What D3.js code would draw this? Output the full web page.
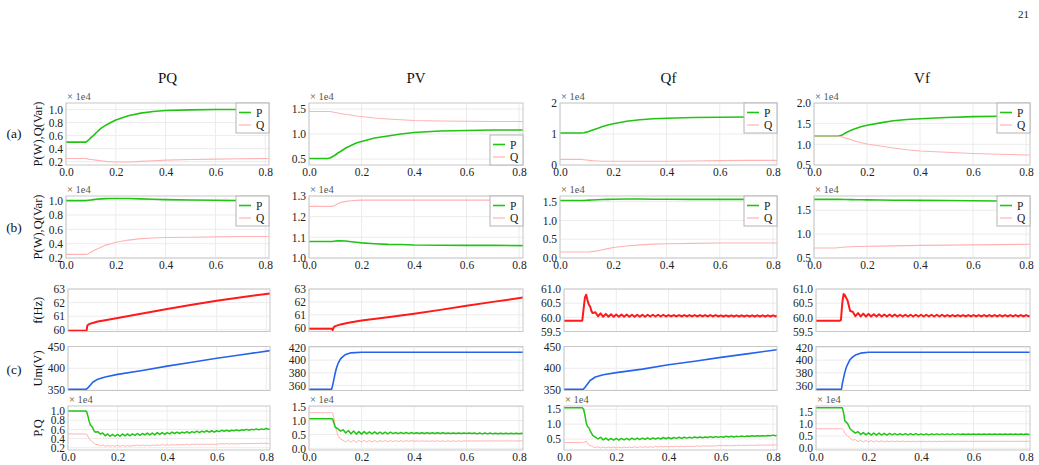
<!DOCTYPE html>
<html>
<head>
<meta charset="utf-8">
<script src="https://cdn.jsdelivr.net/npm/d3@7"></script>
<style>
  body { margin: 0; background: #fff; }
  svg { display: block; }
  svg text { font-family: "Liberation Serif", "Times New Roman", serif !important; }
</style>
</head>
<body>
<svg id="chart" width="1039" height="465"></svg>
<script>
// ---- labels ----
const columns = ["PQ", "PV", "Qf", "Vf"];
const rowLabels = ["(a)", "(b)", "(c)"];
const xTicks = [0, 0.2, 0.4, 0.6, 0.8];

// y ticks / domains per row, one entry per column
const aTicks = [["0.2","0.4","0.6","0.8","1.0"], ["0.5","1.0","1.5"], ["0","1","2"], ["0.5","1.0","1.5","2.0"]];
const aDom = [[0.15, 1.1], [0.38, 1.62], [0, 2], [0.5, 2.0]];
const bTicks = [["0.2","0.4","0.6","0.8","1.0"], ["1.0","1.1","1.2","1.3"], ["0.0","0.5","1.0","1.5"], ["0.5","1.0","1.5"]];
const bDom = [[0.2, 1.065], [1.0, 1.3], [0, 1.65], [0.5, 1.8]];
const fTicks = [["60","61","62","63"], ["60","61","62","63"], ["59.5","60.0","60.5","61.0"], ["59.5","60.0","60.5","61.0"]];
const fDom = [[59.87, 63], [59.7, 63], [59.5, 61], [59.5, 61]];
const uTicks = [["350","400","450"], ["360","380","400","420"], ["350","400","450"], ["360","380","400","420"]];
const uDom = [[349, 450], [352, 421.5], [349, 450], [352, 421.5]];
const cTicks = [["0.2","0.4","0.6","0.8","1.0"], ["0.0","0.5","1.0","1.5"], ["0.5","1.0","1.5"], ["0.0","0.5","1.0","1.5"]];
const cDom = [[0.15, 1.11], [-0.06, 1.52], [0.13, 1.61], [-0.07, 1.73]];

// ---- time grids (s) ----
const tS = [0, 0.07, 0.08, 0.09, 0.1, 0.11, 0.12, 0.14, 0.16, 0.18, 0.2, 0.25, 0.3, 0.35, 0.4, 0.5, 0.6, 0.7, 0.82];
const tR = [0, 0.06, 0.07, 0.075, 0.08, 0.085, 0.09, 0.095, 0.1, 0.105, 0.11,
  0.12, 0.13, 0.14, 0.15, 0.16, 0.17, 0.18, 0.19,
  0.2, 0.21, 0.22, 0.23, 0.24, 0.25, 0.26, 0.27, 0.28, 0.29,
  0.3, 0.31, 0.32, 0.33, 0.34, 0.35, 0.36, 0.37, 0.38, 0.39,
  0.4, 0.41, 0.42, 0.43, 0.44, 0.45, 0.46, 0.47, 0.48, 0.49,
  0.5, 0.51, 0.52, 0.53, 0.54, 0.55, 0.56, 0.57, 0.58, 0.59,
  0.6, 0.61, 0.62, 0.63, 0.64, 0.65, 0.66, 0.67, 0.68, 0.69,
  0.7, 0.71, 0.72, 0.73, 0.74, 0.75, 0.76, 0.77, 0.78, 0.79,
  0.8, 0.81, 0.82];

// ---- row (a): P, Q  (x 1e4) on tS ----
const aP1 = [0.5, 0.5, 0.5, 0.53, 0.57, 0.6, 0.64, 0.71, 0.76, 0.8, 0.84, 0.905, 0.945, 0.97, 0.985, 0.995, 1.0, 1.0, 1.0];
const aQ1 = [0.25, 0.25, 0.25, 0.24, 0.235, 0.23, 0.225, 0.215, 0.205, 0.2, 0.195, 0.195, 0.205, 0.215, 0.225, 0.235, 0.24, 0.245, 0.25];
const aP2 = [0.51, 0.51, 0.52, 0.55, 0.58, 0.62, 0.65, 0.72, 0.77, 0.82, 0.85, 0.92, 0.96, 1.0, 1.03, 1.06, 1.07, 1.08, 1.08];
const aQ2 = [1.45, 1.45, 1.45, 1.44, 1.43, 1.42, 1.41, 1.39, 1.38, 1.36, 1.35, 1.32, 1.3, 1.285, 1.27, 1.26, 1.255, 1.25, 1.25];
const aP3 = [1.03, 1.03, 1.03, 1.04, 1.06, 1.09, 1.12, 1.18, 1.24, 1.29, 1.33, 1.41, 1.46, 1.49, 1.51, 1.53, 1.54, 1.55, 1.55];
const aQ3 = [0.18, 0.18, 0.18, 0.17, 0.16, 0.15, 0.14, 0.13, 0.12, 0.12, 0.12, 0.12, 0.12, 0.12, 0.12, 0.13, 0.14, 0.15, 0.15];
const aP4 = [1.2, 1.2, 1.2, 1.2, 1.21, 1.24, 1.28, 1.34, 1.39, 1.43, 1.46, 1.52, 1.57, 1.6, 1.62, 1.65, 1.67, 1.68, 1.69];
const aQ4 = [1.2, 1.2, 1.2, 1.2, 1.19, 1.17, 1.15, 1.11, 1.07, 1.04, 1.01, 0.96, 0.91, 0.87, 0.84, 0.81, 0.78, 0.76, 0.74];

// ---- row (b): P, Q (x 1e4) on tS ----
const bP1 = [1.0, 1.0, 1.0, 1.005, 1.01, 1.015, 1.02, 1.025, 1.028, 1.03, 1.03, 1.03, 1.025, 1.02, 1.015, 1.01, 1.005, 1.0, 1.0];
const bQ1 = [0.25, 0.25, 0.25, 0.26, 0.28, 0.3, 0.32, 0.35, 0.38, 0.4, 0.42, 0.45, 0.47, 0.48, 0.485, 0.49, 0.495, 0.5, 0.5];
const bP2 = [1.08, 1.08, 1.08, 1.08, 1.082, 1.083, 1.083, 1.082, 1.079, 1.076, 1.073, 1.069, 1.066, 1.065, 1.063, 1.062, 1.061, 1.061, 1.06];
const bQ2 = [1.25, 1.25, 1.25, 1.25, 1.255, 1.262, 1.268, 1.274, 1.277, 1.279, 1.28, 1.28, 1.28, 1.28, 1.28, 1.28, 1.28, 1.28, 1.28];
const bP3 = [1.53, 1.53, 1.53, 1.53, 1.535, 1.54, 1.545, 1.55, 1.555, 1.56, 1.565, 1.57, 1.57, 1.565, 1.565, 1.56, 1.56, 1.56, 1.56];
const bQ3 = [0.16, 0.16, 0.16, 0.16, 0.16, 0.16, 0.17, 0.19, 0.22, 0.25, 0.28, 0.32, 0.35, 0.37, 0.38, 0.39, 0.4, 0.4, 0.4];
const bP4 = [1.73, 1.73, 1.73, 1.73, 1.73, 1.728, 1.726, 1.724, 1.722, 1.72, 1.718, 1.715, 1.712, 1.71, 1.708, 1.705, 1.7, 1.695, 1.69];
const bQ4 = [0.71, 0.71, 0.71, 0.715, 0.72, 0.725, 0.73, 0.735, 0.74, 0.742, 0.745, 0.75, 0.755, 0.76, 0.765, 0.77, 0.775, 0.78, 0.79];

// ---- row (c): frequency (Hz) ----
const tF1 = [0, 0.075, 0.078, 0.082, 0.09, 0.1, 0.12, 0.15, 0.2, 0.3, 0.4, 0.5, 0.6, 0.7, 0.82];
const f1 = [59.93, 59.93, 60.3, 60.38, 60.45, 60.5, 60.6, 60.7, 60.86, 61.2, 61.52, 61.84, 62.14, 62.4, 62.68];
const tF2 = [0, 0.088, 0.09, 0.095, 0.1, 0.12, 0.15, 0.2, 0.3, 0.4, 0.5, 0.6, 0.7, 0.82];
const f2 = [59.92, 59.92, 59.8, 60.05, 60.12, 60.25, 60.38, 60.55, 60.8, 61.07, 61.38, 61.7, 62.0, 62.35];
const f3 = [59.88, 59.88, 59.88, 60.3, 60.7, 60.8, 60.6, 60.45, 60.38, 60.22, 60.15,
  60.18, 60.04, 60.14, 60.02, 60.12, 60.02, 60.11, 60.02,
  60.10, 60.02, 60.10, 60.02, 60.10, 60.02, 60.09, 60.02, 60.09, 60.02,
  60.09, 60.02, 60.09, 60.03, 60.09, 60.03, 60.09, 60.03, 60.09, 60.03,
  60.08, 60.03, 60.08, 60.03, 60.08, 60.03, 60.08, 60.03, 60.08, 60.03,
  60.08, 60.03, 60.08, 60.03, 60.08, 60.03, 60.08, 60.03, 60.08, 60.03,
  60.07, 60.03, 60.07, 60.03, 60.07, 60.03, 60.07, 60.03, 60.07, 60.03,
  60.07, 60.03, 60.07, 60.03, 60.07, 60.03, 60.07, 60.03, 60.07, 60.03,
  60.07, 60.03, 60.07];
const f4 = [59.88, 59.88, 59.88, 59.88, 59.88, 59.88, 59.88, 59.9, 60.5, 60.82, 60.78,
  60.6, 60.22, 60.2, 60.04, 60.15, 60.03, 60.13, 60.03,
  60.12, 60.03, 60.11, 60.03, 60.11, 60.03, 60.10, 60.03, 60.10, 60.03,
  60.10, 60.03, 60.09, 60.03, 60.09, 60.03, 60.09, 60.03, 60.09, 60.03,
  60.09, 60.03, 60.09, 60.03, 60.09, 60.03, 60.09, 60.03, 60.09, 60.03,
  60.08, 60.03, 60.08, 60.03, 60.08, 60.03, 60.08, 60.03, 60.08, 60.03,
  60.08, 60.03, 60.08, 60.03, 60.08, 60.03, 60.08, 60.03, 60.08, 60.03,
  60.08, 60.03, 60.08, 60.03, 60.08, 60.03, 60.08, 60.03, 60.08, 60.03,
  60.08, 60.03, 60.08];

// ---- row (c): voltage Um (V) ----
const tU1 = [0, 0.073, 0.08, 0.09, 0.1, 0.12, 0.15, 0.2, 0.3, 0.4, 0.5, 0.6, 0.7, 0.82];
const u1 = [351.5, 351.5, 355, 361, 368, 375, 380, 386, 395, 405, 414, 423, 431, 441];
const u3 = [351.5, 351.5, 356, 364, 372, 380, 385, 390, 398, 408, 416, 425, 433, 443];
const tU2 = [0, 0.086, 0.09, 0.095, 0.1, 0.105, 0.11, 0.12, 0.13, 0.14, 0.16, 0.2, 0.3, 0.5, 0.82];
const u2 = [354, 354, 360, 370, 380, 388, 394, 402, 406, 409, 411.5, 412.5, 412.5, 412.5, 412.5];
const tU4 = [0, 0.097, 0.1, 0.105, 0.11, 0.115, 0.12, 0.13, 0.14, 0.15, 0.17, 0.2, 0.3, 0.5, 0.82];
const u4 = [354, 354, 362, 372, 381, 388, 393, 401, 405, 408, 411, 412.5, 412.5, 412.5, 412.5];

// ---- row (c): P, Q (x 1e4) on tR ----
const cP1 = [1.0, 1.0, 1.0, 0.99, 0.9, 0.78, 0.7, 0.67, 0.63, 0.57, 0.54,
  0.55, 0.5, 0.52, 0.46, 0.5, 0.45, 0.49, 0.45,
  0.49, 0.45, 0.50, 0.46, 0.50, 0.46, 0.50, 0.47, 0.51, 0.47,
  0.51, 0.48, 0.52, 0.48, 0.52, 0.48, 0.53, 0.49, 0.53, 0.49,
  0.53, 0.50, 0.54, 0.51, 0.54, 0.51, 0.54, 0.52, 0.55, 0.52,
  0.55, 0.53, 0.56, 0.53, 0.56, 0.54, 0.57, 0.54, 0.57, 0.54,
  0.57, 0.55, 0.58, 0.56, 0.58, 0.56, 0.58, 0.57, 0.59, 0.57,
  0.59, 0.58, 0.60, 0.58, 0.60, 0.59, 0.61, 0.59, 0.61, 0.60,
  0.62, 0.60, 0.61];
const cQ1 = [0.5, 0.5, 0.5, 0.5, 0.45, 0.4, 0.36, 0.35, 0.32, 0.3, 0.27,
  0.27, 0.24, 0.26, 0.23, 0.25, 0.23, 0.25, 0.23,
  0.25, 0.23, 0.25, 0.23, 0.25, 0.23, 0.25, 0.24, 0.26, 0.24,
  0.26, 0.24, 0.26, 0.24, 0.26, 0.25, 0.26, 0.25, 0.27, 0.25,
  0.27, 0.25, 0.27, 0.26, 0.27, 0.26, 0.27, 0.26, 0.28, 0.26,
  0.28, 0.27, 0.28, 0.27, 0.28, 0.27, 0.28, 0.27, 0.28, 0.27,
  0.28, 0.28, 0.29, 0.28, 0.29, 0.28, 0.29, 0.28, 0.29, 0.28,
  0.29, 0.29, 0.29, 0.29, 0.29, 0.29, 0.30, 0.29, 0.30, 0.29,
  0.30, 0.29, 0.30];
const cP2 = [1.06, 1.06, 1.06, 1.06, 1.06, 1.06, 1.05, 0.9, 0.76, 0.73, 0.7,
  0.62, 0.67, 0.55, 0.64, 0.52, 0.62, 0.51, 0.6,
  0.51, 0.60, 0.52, 0.59, 0.52, 0.59, 0.52, 0.58, 0.52, 0.58,
  0.52, 0.58, 0.53, 0.57, 0.53, 0.57, 0.53, 0.57, 0.53, 0.57,
  0.53, 0.56, 0.53, 0.56, 0.53, 0.56, 0.53, 0.56, 0.53, 0.56,
  0.53, 0.56, 0.53, 0.55, 0.53, 0.55, 0.53, 0.55, 0.53, 0.55,
  0.53, 0.55, 0.53, 0.55, 0.52, 0.55, 0.52, 0.55, 0.52, 0.55,
  0.52, 0.54, 0.52, 0.54, 0.52, 0.54, 0.52, 0.54, 0.52, 0.54,
  0.52, 0.54, 0.53];
const cQ2 = [1.28, 1.28, 1.28, 1.28, 1.28, 1.28, 1.27, 1.1, 0.8, 0.62, 0.46,
  0.33, 0.29, 0.23, 0.3, 0.22, 0.29, 0.22, 0.29,
  0.22, 0.29, 0.23, 0.29, 0.23, 0.28, 0.23, 0.28, 0.24, 0.28,
  0.24, 0.28, 0.24, 0.28, 0.24, 0.28, 0.24, 0.28, 0.25, 0.28,
  0.25, 0.27, 0.25, 0.27, 0.25, 0.27, 0.25, 0.27, 0.25, 0.27,
  0.25, 0.27, 0.25, 0.27, 0.25, 0.27, 0.25, 0.27, 0.25, 0.27,
  0.26, 0.27, 0.26, 0.27, 0.26, 0.27, 0.26, 0.27, 0.26, 0.27,
  0.26, 0.27, 0.26, 0.27, 0.26, 0.27, 0.26, 0.27, 0.26, 0.27,
  0.26, 0.27, 0.26];
const cP3 = [1.55, 1.55, 1.55, 1.5, 1.3, 1.05, 0.92, 0.88, 0.78, 0.7, 0.62,
  0.56, 0.5, 0.56, 0.47, 0.53, 0.46, 0.52, 0.46,
  0.52, 0.46, 0.52, 0.47, 0.52, 0.47, 0.53, 0.48, 0.53, 0.48,
  0.53, 0.49, 0.54, 0.49, 0.54, 0.50, 0.54, 0.50, 0.55, 0.51,
  0.55, 0.51, 0.55, 0.52, 0.56, 0.52, 0.56, 0.53, 0.56, 0.53,
  0.57, 0.54, 0.57, 0.54, 0.57, 0.55, 0.58, 0.55, 0.58, 0.56,
  0.58, 0.56, 0.59, 0.57, 0.59, 0.57, 0.59, 0.58, 0.60, 0.58,
  0.60, 0.59, 0.61, 0.59, 0.61, 0.60, 0.61, 0.60, 0.62, 0.61,
  0.63, 0.61, 0.63];
const cQ3 = [0.38, 0.38, 0.38, 0.39, 0.4, 0.43, 0.36, 0.3, 0.28, 0.26, 0.24,
  0.21, 0.24, 0.2, 0.23, 0.2, 0.23, 0.2, 0.23,
  0.20, 0.23, 0.20, 0.23, 0.21, 0.23, 0.21, 0.24, 0.21, 0.24,
  0.22, 0.24, 0.22, 0.24, 0.22, 0.25, 0.23, 0.25, 0.23, 0.25,
  0.23, 0.25, 0.24, 0.26, 0.24, 0.26, 0.24, 0.26, 0.25, 0.26,
  0.25, 0.27, 0.25, 0.27, 0.26, 0.27, 0.26, 0.27, 0.26, 0.28,
  0.27, 0.28, 0.27, 0.28, 0.27, 0.28, 0.28, 0.29, 0.28, 0.29,
  0.28, 0.29, 0.29, 0.29, 0.29, 0.30, 0.29, 0.30, 0.29, 0.30,
  0.30, 0.30, 0.30];
const cP4 = [1.66, 1.66, 1.66, 1.66, 1.66, 1.66, 1.66, 1.66, 1.66, 1.45, 1.12,
  1.02, 0.8, 0.7, 0.62, 0.68, 0.56, 0.64, 0.55,
  0.63, 0.54, 0.62, 0.54, 0.62, 0.54, 0.61, 0.54, 0.61, 0.55,
  0.60, 0.55, 0.60, 0.55, 0.60, 0.55, 0.60, 0.55, 0.60, 0.55,
  0.59, 0.55, 0.59, 0.55, 0.59, 0.56, 0.59, 0.56, 0.59, 0.56,
  0.59, 0.56, 0.59, 0.56, 0.59, 0.56, 0.58, 0.56, 0.58, 0.56,
  0.58, 0.56, 0.58, 0.56, 0.58, 0.56, 0.58, 0.56, 0.58, 0.56,
  0.58, 0.56, 0.58, 0.56, 0.58, 0.56, 0.58, 0.56, 0.58, 0.56,
  0.58, 0.56, 0.57];
const cQ4 = [0.8, 0.8, 0.8, 0.8, 0.8, 0.8, 0.8, 0.8, 0.8, 0.75, 0.6,
  0.52, 0.42, 0.33, 0.36, 0.27, 0.33, 0.26, 0.32,
  0.26, 0.32, 0.26, 0.31, 0.26, 0.31, 0.26, 0.30, 0.27, 0.30,
  0.27, 0.30, 0.27, 0.30, 0.27, 0.29, 0.27, 0.29, 0.27, 0.29,
  0.27, 0.29, 0.27, 0.29, 0.27, 0.29, 0.27, 0.29, 0.27, 0.29,
  0.28, 0.29, 0.28, 0.29, 0.28, 0.29, 0.28, 0.29, 0.28, 0.29,
  0.28, 0.29, 0.28, 0.29, 0.28, 0.29, 0.28, 0.29, 0.28, 0.29,
  0.28, 0.29, 0.28, 0.29, 0.28, 0.29, 0.28, 0.29, 0.28, 0.29,
  0.28, 0.29, 0.28];

// ---- layout ----
const SERIF = '"Liberation Serif", "Times New Roman", serif';
const GREEN = "#22c414", PINK = "#ffb3b3", RED = "#ff1a1a", BLUE = "#2563eb";
// [left, right] of plots in rows a/b and in row c, per column
const colX = [[66, 269, 68, 270], [309, 523, 309, 523], [560, 777, 564, 777], [814, 1030, 816, 1030]];
const rowY = { a: [103, 165], b: [196, 258], f: [289, 331.5], u: [346.5, 390.5], c: [406, 450] };
const legendPos = { a: ["tr", "br", "tr", "tr"], b: ["tr", "tr", "tr", "tr"] };

const svg = d3.select("#chart");
let clipN = 0;

function drawPanel(p) {
  const x = d3.scaleLinear().domain([0, 0.815]).range([p.x0, p.x1]);
  const y = d3.scaleLinear().domain(p.dom).range([p.y1, p.y0]);
  const tickVals = p.ticks.map(Number);
  const g = svg.append("g");

  // grid
  g.append("g").selectAll("line").data(xTicks).join("line")
    .attr("x1", d => x(d)).attr("x2", d => x(d))
    .attr("y1", p.y0).attr("y2", p.y1)
    .attr("stroke", "#ececec");
  g.append("g").selectAll("line").data(tickVals).join("line")
    .attr("x1", p.x0).attr("x2", p.x1)
    .attr("y1", d => y(d)).attr("y2", d => y(d))
    .attr("stroke", "#ececec");

  // series
  const id = "clip" + (clipN++);
  svg.append("clipPath").attr("id", id).append("rect")
    .attr("x", p.x0).attr("y", p.y0).attr("width", p.x1 - p.x0).attr("height", p.y1 - p.y0);
  const line = d3.line().x(d => x(d[0])).y(d => y(d[1]));
  p.series.forEach(s => {
    g.append("path")
      .datum(s.t.map((t, i) => [t, s.v[i]]))
      .attr("clip-path", `url(#${id})`)
      .attr("fill", "none")
      .attr("stroke", s.color)
      .attr("stroke-width", s.w)
      .attr("stroke-linejoin", "round")
      .attr("d", line);
  });

  // frame
  g.append("rect")
    .attr("x", p.x0).attr("y", p.y0)
    .attr("width", p.x1 - p.x0).attr("height", p.y1 - p.y0)
    .attr("fill", "none").attr("stroke", "#c8c8c8");

  // y axis
  const ya = g.append("g")
    .attr("transform", `translate(${p.x0},0)`)
    .call(d3.axisLeft(y).tickValues(tickVals).tickFormat((d, i) => p.ticks[i]).tickSize(0).tickPadding(3));
  ya.select(".domain").remove();
  ya.attr("font-family", null);
  ya.selectAll("text").attr("font-size", 11.5).attr("fill", "#222");

  // x axis labels
  if (p.xlab) {
    const xa = g.append("g")
      .attr("transform", `translate(0,${p.y1})`)
      .call(d3.axisBottom(x).tickValues(xTicks).tickFormat(d3.format(".1f")).tickSize(0).tickPadding(3));
    xa.select(".domain").remove();
    xa.attr("font-family", null);
    xa.selectAll("text").attr("font-size", 11.5).attr("fill", "#222");
  }

  if (p.e4) {
    g.append("text")
      .attr("x", p.x0 + 1).attr("y", p.y0 - 3)
      .attr("font-size", 10.5).attr("fill", "#555")
      .text("\u00d7 1e4");
  }

  if (p.legend) {
    const w = 33, h = 30;
    const lx = p.x1 - w;
    const ly = p.legend === "tr" ? p.y0 : p.y1 - h;
    const lg = g.append("g");
    lg.append("rect").attr("x", lx).attr("y", ly).attr("width", w).attr("height", h)
      .attr("fill", "#fff").attr("stroke", "#b4b4b4");
    [["P", GREEN, 1.6], ["Q", PINK, 1.2]].forEach(([name, c, sw], i) => {
      const yy = ly + 9.5 + i * 12.5;
      lg.append("line").attr("x1", lx + 3).attr("x2", lx + 15).attr("y1", yy).attr("y2", yy)
        .attr("stroke", c).attr("stroke-width", sw);
      lg.append("text").attr("x", lx + 20).attr("y", yy + 4)
        .attr("font-size", 11.5).attr("fill", "#222")
        .text(name);
    });
  }
}

const aData = [[aP1, aQ1], [aP2, aQ2], [aP3, aQ3], [aP4, aQ4]];
const bData = [[bP1, bQ1], [bP2, bQ2], [bP3, bQ3], [bP4, bQ4]];
const fData = [[tF1, f1], [tF2, f2], [tR, f3], [tR, f4]];
const uData = [[tU1, u1], [tU2, u2], [tU1, u3], [tU4, u4]];
const cData = [[cP1, cQ1], [cP2, cQ2], [cP3, cQ3], [cP4, cQ4]];

columns.forEach((name, j) => {
  const [ax0, ax1, cx0, cx1] = colX[j];

  svg.append("text")
    .attr("x", (ax0 + ax1) / 2).attr("y", 83)
    .attr("text-anchor", "middle")
    .attr("font-size", 15).attr("fill", "#111")
    .text(name);

  drawPanel({ x0: ax0, x1: ax1, y0: rowY.a[0], y1: rowY.a[1], dom: aDom[j], ticks: aTicks[j],
    xlab: true, e4: true, legend: legendPos.a[j],
    series: [{ t: tS, v: aData[j][0], color: GREEN, w: 1.6 }, { t: tS, v: aData[j][1], color: PINK, w: 1.1 }] });
  drawPanel({ x0: ax0, x1: ax1, y0: rowY.b[0], y1: rowY.b[1], dom: bDom[j], ticks: bTicks[j],
    xlab: true, e4: true, legend: legendPos.b[j],
    series: [{ t: tS, v: bData[j][0], color: GREEN, w: 1.6 }, { t: tS, v: bData[j][1], color: PINK, w: 1.1 }] });
  drawPanel({ x0: cx0, x1: cx1, y0: rowY.f[0], y1: rowY.f[1], dom: fDom[j], ticks: fTicks[j],
    series: [{ t: fData[j][0], v: fData[j][1], color: RED, w: 2 }] });
  drawPanel({ x0: cx0, x1: cx1, y0: rowY.u[0], y1: rowY.u[1], dom: uDom[j], ticks: uTicks[j],
    series: [{ t: uData[j][0], v: uData[j][1], color: BLUE, w: 1.6 }] });
  drawPanel({ x0: cx0, x1: cx1, y0: rowY.c[0], y1: rowY.c[1], dom: cDom[j], ticks: cTicks[j],
    xlab: true, e4: true,
    series: [{ t: tR, v: cData[j][1], color: PINK, w: 1 }, { t: tR, v: cData[j][0], color: GREEN, w: 1.5 }] });
});

// row labels and y titles (first column only)
const rowLabelY = [138, 232, 374];
rowLabels.forEach((r, i) => {
  svg.append("text").attr("x", 14).attr("y", rowLabelY[i])
    .attr("text-anchor", "middle")
    .attr("font-size", 13.5).attr("fill", "#111")
    .text(r);
});
const yTitles = [["P(W),Q(Var)", (rowY.a[0] + rowY.a[1]) / 2], ["P(W),Q(Var)", (rowY.b[0] + rowY.b[1]) / 2],
  ["f(Hz)", (rowY.f[0] + rowY.f[1]) / 2], ["Um(V)", (rowY.u[0] + rowY.u[1]) / 2], ["P,Q", (rowY.c[0] + rowY.c[1]) / 2]];
yTitles.forEach(([txt, cy]) => {
  svg.append("text")
    .attr("transform", `translate(42,${cy}) rotate(-90)`)
    .attr("text-anchor", "middle")
    .attr("font-size", 12.5).attr("fill", "#111")
    .text(txt);
});

// page number
svg.append("text").attr("x", 1029).attr("y", 18).attr("text-anchor", "end")
  .attr("font-size", 11).attr("fill", "#222")
  .text("21");
</script>
</body>
</html>
